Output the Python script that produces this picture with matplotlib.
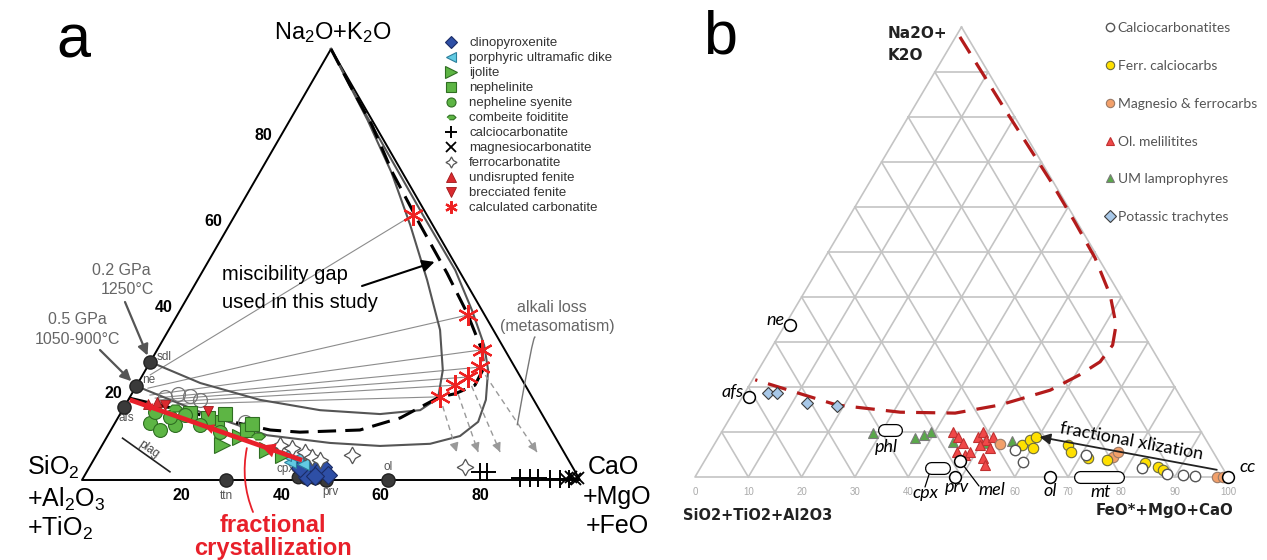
import numpy as np
import matplotlib.pyplot as plt
from matplotlib.lines import Line2D

plt.rcParams['font.family'] = ['Liberation Sans', 'DejaVu Sans']
plt.rcParams['mathtext.fontset'] = 'custom'
plt.rcParams['mathtext.rm'] = 'Liberation Sans'
plt.rcParams['mathtext.it'] = 'Liberation Sans:italic'
plt.rcParams['mathtext.bf'] = 'Liberation Sans:bold'

W, H = 1267, 560

# ---------------- panel a : (Na2O+K2O %, CaO+MgO+FeO %) ----------------
gap_top = [100, 91.6, 82.4, 71.2, 59.2, 48.0, 38.7, 30.2, 26.0, 22.0, 20.0, 19.3, 14.4, 11.6, 11.1, 11.6, 14.6, 19.0]
gap_right = [0, 8.0, 17.0, 26.8, 38.3, 49.3, 58.0, 65.2, 67.7, 67.9, 64.9, 62.2, 56.7, 50.0, 38.2, 32.0, 18.4, 0]

# 0.2 GPa solvus (from sdl) and 0.5 GPa solvus (from ne)
s1_top = [27.4, 22.5, 18.6, 16.2, 15.3, 16.2, 19.0, 25.5, 34.8, 46.4, 59.2, 71.2, 83.5, 92.8, 100]
s1_right = [0, 12.5, 26.4, 39.7, 52.2, 59.8, 62.0, 59.7, 54.5, 46.1, 36.3, 26.6, 15.6, 6.8, 0]
s2_top = [21.8, 15.8, 10.4, 8.6, 7.9, 8.4, 10.2, 13.5, 18.6, 25.5, 31.3, 39.4, 48.7, 61.5, 74.2, 84.7, 93.3, 100]
s2_right = [0, 15.8, 31.9, 45.5, 55.9, 65.7, 70.8, 72.8, 71.8, 68.8, 65.1, 58.6, 50.6, 37.7, 25.1, 14.7, 6.4, 0]

star_top = [61.5, 38.3, 30.2, 26.2, 23.9, 22.0, 19.3]
star_right = [35.7, 58.4, 65.2, 66.8, 65.5, 63.9, 62.2]
tie_top = [24.4, 21.3, 19.7, 19.0, 18.6, 18.1, 17.6]
tie_right = [1.5, 2.6, 3.8, 5.2, 6.4, 8.0, 10.3]

loss_from = [6, 5, 4, 3]
loss_top = [6.5, 6.5, 6.5, 6.5]
loss_right = [72.0, 76.3, 80.7, 88.1]

frac_top = [4.6, 18.6]
frac_right = [41.9, 0.3]

min_a_names = ['sdl', 'ne', 'afs', 'ttn', 'prv', 'ol']
min_a_top = [27.4, 21.8, 16.9, 0, 0, 0]
min_a_right = [0, 0, 0, 29.0, 49.0, 61.4]
cpx_top = [0.6, 0.4, 0.5]
cpx_right = [43.0, 44.8, 46.6]

cpxite_top = [2.3, 3.9, 3.0, 0.7, 1.2, 0.9, 2.8]
cpxite_right = [46.0, 43.9, 46.9, 44.9, 48.8, 46.4, 42.4]
dike_top = [4.2, 5.1, 5.8, 3.7]
dike_right = [39.7, 40.7, 37.9, 42.6]
ijol_top = [8.1, 10.0, 7.0, 5.8]
ijol_right = [24.1, 26.7, 33.6, 37.5]
neph_top = [15.5, 13.5, 15.3, 11.6, 13.0, 14.4]
neph_right = [13.9, 20.4, 21.1, 27.3, 27.6, 18.1]
syen_top = [13.2, 11.6, 12.8, 15.1, 12.8, 11.1, 15.8, 14.6]
syen_right = [7.0, 9.9, 12.3, 13.1, 17.3, 22.2, 6.8, 10.4]
comb_top = [10.2, 16.7]
comb_right = [30.2, 10.3]
calc_top = [1.9, 1.9, 0.5, 0.5, 0.5, 0.2, 0.2, 0.2]
calc_right = [79.0, 80.4, 87.7, 89.7, 91.3, 93.9, 95.9, 97.6]
magn_top = [0.3, 0.6, 0.2, 0.4]
magn_right = [97.0, 97.8, 98.9, 99.4]
ferro_top = [8.1, 7.4, 6.5, 5.3, 4.6, 5.8, 3.0]
ferro_right = [35.8, 38.5, 41.6, 43.6, 45.5, 51.3, 75.4]
undis_top = [17.6, 18.1]
undis_right = [4.5, 6.0]
brec_top = [17.4, 16.0]
brec_right = [8.0, 17.3]
glass_top = [19.3, 20.0, 19.5, 18.6, 13.5, 12.5]
glass_right = [7.1, 9.3, 12.0, 14.4, 26.0, 27.5]

# ---------------- panel b : (Na2O+K2O %, FeO*+MgO+CaO %) ----------------
red_top = [97.8, 81.6, 66.0, 56.7, 48.7, 40.4, 33.8, 29.3, 25.6, 22.7, 19.3, 16.0, 14.2, 14.4, 16.0, 21.6]
red_right = [0.8, 17.4, 33.6, 42.9, 50.7, 57.7, 62.1, 63.7, 63.2, 60.8, 57.0, 49.2, 41.7, 31.3, 18.6, 0.5]

ktr_top = [18.7, 18.7, 16.4, 15.8]
ktr_right = [4.3, 6.0, 12.8, 18.7]
uml_top = [9.8, 8.7, 9.3, 10.0, 7.8, 7.6, 8.0]
uml_right = [28.5, 37.0, 38.4, 39.3, 44.5, 51.0, 55.5]
olm_top = [10.0, 8.9, 7.6, 5.6, 4.9, 5.6, 8.9, 10.0, 8.2, 7.1, 4.2, 2.7, 8.9, 6.4]
olm_right = [43.4, 44.9, 46.5, 46.4, 48.2, 48.8, 48.6, 49.0, 50.5, 50.0, 51.9, 53.0, 51.4, 52.1]
mgf_top = [7.3, 4.4, 5.6, 0.0, 0.0]
mgf_right = [53.5, 76.2, 76.6, 97.9, 99.1]
fcc_top = [7.1, 8.2, 6.4, 8.9, 7.1, 5.6, 4.2, 3.8, 3.1, 2.2, 1.6]
fcc_right = [57.8, 58.7, 60.2, 59.5, 66.4, 67.7, 71.6, 75.4, 82.8, 85.8, 87.0]
ccb_top = [6.0, 3.3, 4.9, 2.0, 0.7, 0.4, 0.2]
ccb_right = [57.0, 59.8, 71.0, 82.9, 88.2, 91.4, 93.7]

min_b_names = ['ne', 'afs', 'prv', 'mel', 'ol', 'cc']
min_b_top = [33.8, 17.8, 0.0, 3.6, 0.0, 0.0]
min_b_right = [0.9, 1.2, 48.8, 47.9, 66.6, 100.0]
pill_names = ['phl', 'cpx', 'mt']
pill_top = [10.4, 2.0, 0.0]
pill_r0 = [30.3, 43.3, 72.2]
pill_r1 = [32.5, 45.7, 79.4]

xliz_top = [1.6, 8.9]
xliz_right = [97.1, 60.2]

b_ticks = [0, 10, 20, 30, 40, 60, 70, 80, 90, 100]


def tern(top, right):
    # ternary (top, right) percentages -> cartesian; base runs 0..100
    top = np.asarray(top, dtype=float)
    right = np.asarray(right, dtype=float)
    return right + top / 2.0, top


def fpx(x, y):
    return x / W, 1.0 - y / H


fig = plt.figure(figsize=(W / 100, H / 100), dpi=100)
fig.patch.set_facecolor('white')

ax_a = fig.add_axes([0, 0, 1, 1], label='a')
ax_a.set_xlim(-82 / 4.98, (W - 82) / 4.98)
ax_a.set_ylim((480 - H) / 4.31, 480 / 4.31)
ax_a.axis('off')

ax_b = fig.add_axes([0, 0, 1, 1], label='b')
ax_b.set_xlim(-695 / 5.33, (W - 695) / 5.33)
ax_b.set_ylim((477 - H) / 4.5, 477 / 4.5)
ax_b.axis('off')

# ======================= panel a =======================
ax_a.plot(*tern([100, 0, 0, 100], [0, 0, 100, 0]), color='black', lw=1.4, zorder=2)

for i in range(len(star_top)):
    ax_a.plot(*tern([star_top[i], tie_top[i]], [star_right[i], tie_right[i]]),
              color='#8c8c8c', lw=0.8, zorder=1)

ax_a.plot(*tern(s1_top, s1_right), color='#555555', lw=1.5, zorder=2)
ax_a.plot(*tern(s2_top, s2_right), color='#555555', lw=1.5, zorder=2)
ax_a.plot(*tern(gap_top, gap_right), color='black', lw=2.2, dashes=(6, 3), zorder=3)

# alkali loss arrows
for k, i in enumerate(loss_from):
    x0, y0 = tern(star_top[i], star_right[i])
    x1, y1 = tern(loss_top[k], loss_right[k])
    ax_a.plot([x0, x1], [y0, y1], color='#999999', lw=1.0, dashes=(4, 3), zorder=2)
    ax_a.annotate('', xy=(x1, y1), xytext=(x0 + 0.9 * (x1 - x0), y0 + 0.9 * (y1 - y0)),
                  arrowprops=dict(arrowstyle='-|>', color='#999999', lw=1.0,
                                  mutation_scale=13, shrinkA=0, shrinkB=0), zorder=2)

# plag trend
ax_a.plot(*tern([9.7, 1.9], [3.3, 16.7]), color='#222222', lw=1.2, zorder=2)
fig.text(*fpx(149, 449), 'plag', rotation=-35, fontsize=8.5, color='#444444',
         ha='center', va='center')

# minerals
mx, my = tern(min_a_top, min_a_right)
ax_a.plot(mx, my, 'o', ms=9.5, mfc='#3a3a3a', mec='#222222', zorder=5)
ax_a.plot(*tern(cpx_top, cpx_right), 'o', ms=9, mfc='#3a3a3a', mec='#222222', zorder=5)
min_off = {'sdl': (6, 5, 'left'), 'ne': (6, 6, 'left'), 'afs': (2, -11, 'center'),
           'ttn': (0, -16, 'center'), 'prv': (4, -12, 'center'), 'ol': (0, 13, 'center')}
for name, x, y in zip(min_a_names, mx, my):
    dx, dy, ha = min_off[name]
    ax_a.annotate(name, xy=(x, y), xytext=(dx, dy), textcoords='offset pixels',
                  ha=ha, va='center', fontsize=8.5, color='#555555')
cx, cy = tern(cpx_top[0], cpx_right[0])
ax_a.annotate('cpx', xy=(cx, cy), xytext=(-3, 8), textcoords='offset pixels',
              ha='right', va='center', fontsize=8.5, color='#555555')

GREEN = '#5db544'
series_a = [
    ('clinopyroxenite', cpxite_top, cpxite_right,
     dict(marker='D', mfc='#2e4fa6', mec='#1b2c66', ms=9, mew=0.8)),
    ('porphyric ultramafic dike', dike_top, dike_right,
     dict(marker='<', mfc='#62cbe3', mec='#2b7f9c', ms=9, mew=0.8)),
    ('ijolite', ijol_top, ijol_right,
     dict(marker='>', mfc=GREEN, mec='#2f6e22', ms=12, mew=0.8)),
    ('nephelinite', neph_top, neph_right,
     dict(marker='s', mfc=GREEN, mec='#2f6e22', ms=10, mew=0.8)),
    ('nepheline syenite', syen_top, syen_right,
     dict(marker='o', mfc=GREEN, mec='#2f6e22', ms=10, mew=0.8)),
    ('combeite foiditite', comb_top, comb_right,
     dict(marker=[(-1, 0), (-0.45, 0.5), (0.45, 0.5), (1, 0), (0.45, -0.5), (-0.45, -0.5)],
          mfc=GREEN, mec='#2f6e22', ms=10, mew=0.8)),
    ('calciocarbonatite', calc_top, calc_right,
     dict(marker='+', color='black', ms=13, mew=1.4)),
    ('magnesiocarbonatite', magn_top, magn_right,
     dict(marker='x', color='black', ms=9, mew=1.3)),
    ('ferrocarbonatite', ferro_top, ferro_right,
     dict(marker=(4, 1, 0), mfc='white', mec='#555555', ms=12, mew=0.9)),
    ('undisrupted fenite', undis_top, undis_right,
     dict(marker='^', mfc='#d92a2f', mec='#a01518', ms=7, mew=0.6)),
    ('brecciated fenite', brec_top, brec_right,
     dict(marker='v', mfc='#d92a2f', mec='#a01518', ms=7, mew=0.6)),
    ('calculated carbonatite', star_top, star_right,
     dict(marker=(6, 2, 0), color='#ee2222', ms=15, mew=1.6)),
]

ax_a.plot(*tern(glass_top, glass_right), 'o', ms=10, mfc='none', mec='#777777', mew=0.9, zorder=4)

handles_a = []
for label, tt, rr, style in series_a:
    ax_a.plot(*tern(tt, rr), ls='none', zorder=6, **style)
    leg_style = dict(style)
    leg_style['ms'] = {'calculated carbonatite': 9, 'calciocarbonatite': 8,
                       'ijolite': 8, 'ferrocarbonatite': 8}.get(label, 6.5)
    handles_a.append(Line2D([], [], ls='none', label=label, **leg_style))

# fractional crystallization arrow
RED = '#e8202a'
fx, fy = tern(frac_top, frac_right)
ax_a.plot(fx, fy, color=RED, lw=3.4, solid_capstyle='butt', zorder=8)
for t, size in [(0.24, 26), (0.57, 18), (0.92, 16)]:
    hx, hy = fx[0] + t * (fx[1] - fx[0]), fy[0] + t * (fy[1] - fy[0])
    ax_a.annotate('', xy=(hx, hy), xytext=(hx - 0.05 * (fx[1] - fx[0]), hy - 0.05 * (fy[1] - fy[0])),
                  arrowprops=dict(arrowstyle='-|>', color=RED, lw=0, mutation_scale=size,
                                  shrinkA=0, shrinkB=0), zorder=8)
ax_a.annotate('', xy=tern(7.4, 29.4), xytext=(253, H - 512), textcoords='figure pixels',
              arrowprops=dict(arrowstyle='-', color=RED, lw=1.3, shrinkA=0, shrinkB=0,
                              connectionstyle='arc3,rad=-0.15'), zorder=8)
fig.text(*fpx(273, 525), 'fractional', color=RED, fontsize=17, fontweight='bold',
         ha='center', va='center')
fig.text(*fpx(273, 548), 'crystallization', color=RED, fontsize=17, fontweight='bold',
         ha='center', va='center')

# ticks
for v in (20, 40, 60, 80):
    ax_a.annotate(str(v), xy=tern(v, 0), xytext=(-18, 0), textcoords='offset pixels',
                  ha='center', va='center', fontsize=11.5, fontweight='bold')
    ax_a.annotate(str(v), xy=tern(0, v), xytext=(0, -16), textcoords='offset pixels',
                  ha='center', va='center', fontsize=11.5, fontweight='bold')

# labels
fig.text(*fpx(73, 42), 'a', fontsize=44, ha='center', va='center')
fig.text(*fpx(333, 33), r'Na$_2$O+K$_2$O', fontsize=17, ha='center', va='center')
fig.text(*fpx(27, 467), r'SiO$_2$', fontsize=18, ha='left', va='center')
fig.text(*fpx(27, 499), r'+Al$_2$O$_3$', fontsize=18, ha='left', va='center')
fig.text(*fpx(27, 528), r'+TiO$_2$', fontsize=18, ha='left', va='center')
fig.text(*fpx(588, 467), 'CaO', fontsize=18, ha='left', va='center')
fig.text(*fpx(583, 497), '+MgO', fontsize=18, ha='left', va='center')
fig.text(*fpx(586, 526), '+FeO', fontsize=18, ha='left', va='center')

GREY = '#666666'
fig.text(*fpx(121, 270), '0.2 GPa', fontsize=11.5, color=GREY, ha='center', va='center')
fig.text(*fpx(127, 290), '1250°C', fontsize=11.5, color=GREY, ha='center', va='center')
fig.text(*fpx(77, 320), '0.5 GPa', fontsize=11.5, color=GREY, ha='center', va='center')
fig.text(*fpx(77, 340), '1050-900°C', fontsize=11.5, color=GREY, ha='center', va='center')
ax_a.annotate('', xy=tern(min_a_top[0], min_a_right[0]), xytext=(125, H - 302),
              textcoords='figure pixels',
              arrowprops=dict(arrowstyle='-|>', color='#555555', lw=1.6, mutation_scale=16,
                              shrinkA=0, shrinkB=5))
ax_a.annotate('', xy=tern(min_a_top[1], min_a_right[1]), xytext=(100, H - 350),
              textcoords='figure pixels',
              arrowprops=dict(arrowstyle='-|>', color='#555555', lw=1.6, mutation_scale=16,
                              shrinkA=0, shrinkB=5))

fig.text(*fpx(222, 275), 'miscibility gap', fontsize=14.5, ha='left', va='center')
fig.text(*fpx(222, 302), 'used in this study', fontsize=14.5, ha='left', va='center')
ax_a.annotate('', xy=tern(50.6, 45.5), xytext=(362, H - 286), textcoords='figure pixels',
              arrowprops=dict(arrowstyle='-|>', color='black', lw=1.5, mutation_scale=18,
                              shrinkA=0, shrinkB=0), zorder=7)

fig.text(*fpx(552, 308), 'alkali loss', fontsize=11.5, color=GREY, ha='center', va='center')
fig.text(*fpx(557, 327), '(metasomatism)', fontsize=11.5, color=GREY, ha='center', va='center')
ax_a.annotate('', xy=tern(12.8, 81.0), xytext=(535, H - 337), textcoords='figure pixels',
              arrowprops=dict(arrowstyle='-', color='#777777', lw=1.0, shrinkA=0, shrinkB=0,
                              connectionstyle='angle3,angleA=-60,angleB=80'))

ax_a.legend(handles=handles_a, loc='upper left', bbox_to_anchor=fpx(444, 37),
            bbox_transform=fig.transFigure, frameon=False, fontsize=9.5,
            handlelength=1.0, handletextpad=0.9, labelspacing=0.21,
            borderpad=0, borderaxespad=0, labelcolor='#333333')

# ======================= panel b =======================
GRID = '#c4c4c4'
for k in range(10, 100, 10):
    ax_b.plot(*tern([k, k], [0, 100 - k]), color=GRID, lw=1.2, zorder=1)
    ax_b.plot(*tern([0, 100 - k], [k, k]), color=GRID, lw=1.2, zorder=1)
    ax_b.plot(*tern([0, 100 - k], [100 - k, 0]), color=GRID, lw=1.2, zorder=1)
ax_b.plot(*tern([100, 0, 0, 100], [0, 0, 100, 0]), color=GRID, lw=1.2, zorder=1)

for v in b_ticks:
    ax_b.annotate(str(v), xy=tern(0, v), xytext=(0, -15), textcoords='offset pixels',
                  ha='center', va='center', fontsize=7, color='#aaaaaa')

ax_b.plot(*tern(red_top, red_right), color='#b31b1b', lw=2.3, dashes=(6, 3.5), zorder=3)

# mineral phases
for t, r0, r1 in zip(pill_top, pill_r0, pill_r1):
    ax_b.plot(*tern([t, t], [r0, r1]), color='black', lw=9.4, solid_capstyle='round', zorder=4)
    ax_b.plot(*tern([t, t], [r0, r1]), color='white', lw=7.6, solid_capstyle='round', zorder=4)
bx, by = tern(min_b_top, min_b_right)
ax_b.plot(bx, by, 'o', ms=8.5, mfc='white', mec='black', mew=1.1, zorder=6)

FB = ['Lato', 'DejaVu Sans']
lab_off = {'ne': (-5, 5, 'right'), 'afs': (-5, 5, 'right'), 'prv': (2, -10, 'center'),
           'mel': (32, -29, 'center'), 'ol': (0, -14, 'center'), 'cc': (20, 10, 'center')}
for name, x, y in zip(min_b_names, bx, by):
    dx, dy, ha = lab_off[name]
    ax_b.annotate(name, xy=(x, y), xytext=(dx, dy), textcoords='offset pixels', ha=ha,
                  va='center', fontsize=13, style='italic', family=FB, zorder=7)
pill_off = {'phl': (-4, -17), 'cpx': (-12, -25), 'mt': (2, -15)}
for name, t, r0, r1 in zip(pill_names, pill_top, pill_r0, pill_r1):
    dx, dy = pill_off[name]
    ax_b.annotate(name, xy=tern(t, (r0 + r1) / 2), xytext=(dx, dy), textcoords='offset pixels',
                  ha='center', va='center', fontsize=13, style='italic', family=FB, zorder=7)
# leader lines
ax_b.annotate('', xy=tern(pill_top[1], pill_r0[1]), xytext=(925, H - 487),
              textcoords='figure pixels',
              arrowprops=dict(arrowstyle='-', color='black', lw=0.9, shrinkA=0, shrinkB=4))
ax_b.annotate('', xy=tern(min_b_top[3], min_b_right[3]), xytext=(979, H - 486),
              textcoords='figure pixels',
              arrowprops=dict(arrowstyle='-', color='black', lw=0.9, shrinkA=0, shrinkB=4))

series_b = [
    ('Calciocarbonatites', ccb_top, ccb_right,
     dict(marker='o', mfc='white', mec='#555555', ms=7.5, mew=1.0)),
    ('Ferr. calciocarbs', fcc_top, fcc_right,
     dict(marker='o', mfc='#ffe000', mec='#6b6b40', ms=7.5, mew=0.8)),
    ('Magnesio & ferrocarbs', mgf_top, mgf_right,
     dict(marker='o', mfc='#f2a06a', mec='#9a7a66', ms=7.5, mew=0.8)),
    ('Ol. melilitites', olm_top, olm_right,
     dict(marker='^', mfc='#f04848', mec='#c03030', ms=7.5, mew=0.8)),
    ('UM lamprophyres', uml_top, uml_right,
     dict(marker='^', mfc='#5aa84a', mec='#7a7a7a', ms=7.5, mew=0.8)),
    ('Potassic trachytes', ktr_top, ktr_right,
     dict(marker='D', mfc='#a8c8e8', mec='#3c3c3c', ms=6.5, mew=0.8)),
]
handles_b = []
for label, tt, rr, style in reversed(series_b):
    ax_b.plot(*tern(tt, rr), ls='none', zorder=5, **style)
for label, tt, rr, style in series_b:
    leg_style = dict(style)
    leg_style['ms'] = 6
    handles_b.append(Line2D([], [], ls='none', label=label, **leg_style))

ax_b.annotate('', xy=tern(xliz_top[1], xliz_right[1]), xytext=tern(xliz_top[0], xliz_right[0]),
              arrowprops=dict(arrowstyle='-|>', color='#222222', lw=1.3, mutation_scale=16,
                              shrinkA=0, shrinkB=0), zorder=7)
fig.text(*fpx(1131, 441), 'fractional xlization', rotation=-10.5, fontsize=13,
         family=FB, ha='center', va='center', rotation_mode='anchor')

fig.text(*fpx(720, 38), 'b', fontsize=44, ha='center', va='center')
fig.text(*fpx(888, 33), 'Na2O+', fontsize=11, fontweight='bold', family=['DejaVu Sans'],
         ha='left', va='center', color='#222222')
fig.text(*fpx(888, 55), 'K2O', fontsize=11, fontweight='bold', family=['DejaVu Sans'],
         ha='left', va='center', color='#222222')
fig.text(*fpx(683, 515), 'SiO2+TiO2+Al2O3', fontsize=10.5, fontweight='bold',
         family=['DejaVu Sans'], ha='left', va='center', color='#222222')
fig.text(*fpx(1233, 510), 'FeO*+MgO+CaO', fontsize=10.8, fontweight='bold',
         family=['DejaVu Sans'], ha='right', va='center', color='#222222')

ax_b.legend(handles=handles_b, loc='upper left', bbox_to_anchor=fpx(1106, 22),
            bbox_transform=fig.transFigure, frameon=False, prop={'family': FB, 'size': 10},
            handlelength=0.6, handletextpad=0.25, labelspacing=1.86,
            borderpad=0, borderaxespad=0, labelcolor='#555555')

fig.savefig('out.png', dpi=100)
